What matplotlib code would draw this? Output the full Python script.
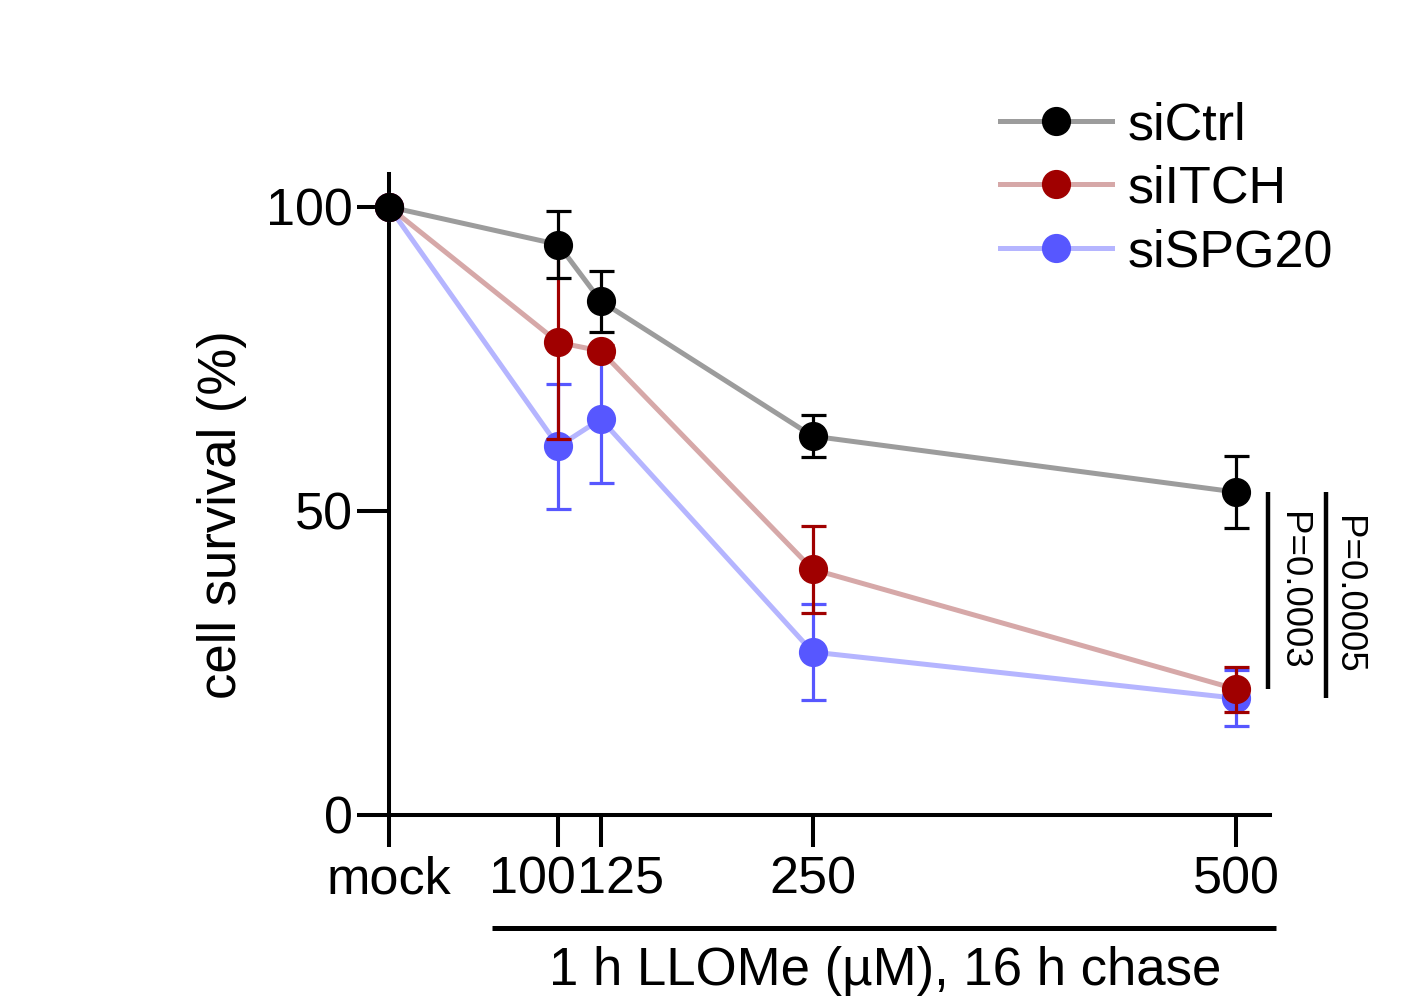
import matplotlib
matplotlib.use("Agg")
import matplotlib.pyplot as plt
from matplotlib.lines import Line2D
from matplotlib.transforms import ScaledTranslation

plt.rcParams['font.family'] = ['Liberation Sans', 'DejaVu Sans']

# data (mean +- error)
conc = [0, 100, 125, 250, 500]
xlabels = ['mock', '100', '125', '250', '500']

ctrl = [100, 93.8, 84.5, 62.3, 53.1]
ctrl_err = [0, 5.5, 5.0, 3.5, 5.9]
itch = [100, 77.7, 76.3, 40.4, 20.7]
itch_err = [0, 15.9, 1.0, 7.2, 3.7]
spg20 = [100, 60.6, 65.1, 26.8, 19.2]
spg20_err = [0, 10.3, 10.5, 7.9, 4.6]

names = ['siCtrl', 'siITCH', 'siSPG20']
pvals = ['P=0.0003', 'P=0.0005']

W, H = 1408, 1006
fig = plt.figure(figsize=(W / 100, H / 100), dpi=100)
ax = fig.add_axes([389 / W, 1 - 815 / H, 881 / W, 641 / H])

series = [
    (spg20, spg20_err, '#b5b5ff', '#5757ff', 3),
    (itch, itch_err, '#d6a8a8', '#a00000', 4),
    (ctrl, ctrl_err, '#9c9c9c', '#000000', 5),
]
for ys, es, lc, mc, z in series:
    ax.plot(conc, ys, color=lc, lw=3.6, zorder=2, clip_on=False)
    ax.errorbar(conc, ys, yerr=es, fmt='o', color=mc, ms=20, mec=mc,
                elinewidth=2.3, capsize=9, capthick=2.3, zorder=z, clip_on=False)

ax.set_xlim(0, 520)
ax.set_ylim(0, 105.4)
ax.set_xticks(conc)
ax.set_xticklabels(xlabels)
ax.set_yticks([0, 50, 100])
for s in ['top', 'right']:
    ax.spines[s].set_visible(False)
for s in ['left', 'bottom']:
    ax.spines[s].set_linewidth(2.9)
ax.tick_params(axis='both', length=23, width=2.9, labelsize=37.5)
ax.tick_params(axis='x', pad=6)
ax.tick_params(axis='y', pad=3)

# shift crowded labels like Prism does
lbls = ax.get_xticklabels()
lbls[1].set_transform(lbls[1].get_transform() + ScaledTranslation(-0.26, 0, fig.dpi_scale_trans))
lbls[2].set_transform(lbls[2].get_transform() + ScaledTranslation(0.20, 0, fig.dpi_scale_trans))

# treatment bar + label under the axis
tr = ax.get_xaxis_transform()
ax.plot([61, 523.5], [-0.176, -0.176], transform=tr, color='black', lw=3.6,
        clip_on=False, solid_capstyle='butt')
fig.text(885 / W, 1 - 971 / H, '1 h LLOMe (µM), 16 h chase', fontsize=38,
         ha='center', va='center')
fig.text(222 / W, 1 - 515 / H, 'cell survival (%)', fontsize=38,
         rotation=90, ha='center', va='center')

# significance bars at 500
ax.plot([519, 519], [ctrl[-1], itch[-1]], color='black', lw=3.2, clip_on=False,
        solid_capstyle='butt')
ax.plot([553, 553], [ctrl[-1], spg20[-1]], color='black', lw=3.2, clip_on=False,
        solid_capstyle='butt')
ax.text(533, (ctrl[-1] + itch[-1]) / 2, pvals[0], rotation=-90, fontsize=26.5,
        ha='center', va='center')
ax.text(566, (ctrl[-1] + spg20[-1]) / 2, pvals[1], rotation=-90, fontsize=26.5,
        ha='center', va='center')

handles = []
for (ys, es, lc, mc, z) in series[::-1]:
    handles.append(Line2D([], [], color=lc, lw=3.6, marker='o', ms=20,
                          mfc=mc, mec=mc))
leg = fig.legend(handles, names, loc='upper left',
                 bbox_to_anchor=(1000 / W, 1 - 101 / H), frameon=False,
                 fontsize=37.5, handlelength=2.15, handletextpad=0.3,
                 labelspacing=0.28, borderpad=0, borderaxespad=0)

fig.savefig('out.png', dpi=100)
